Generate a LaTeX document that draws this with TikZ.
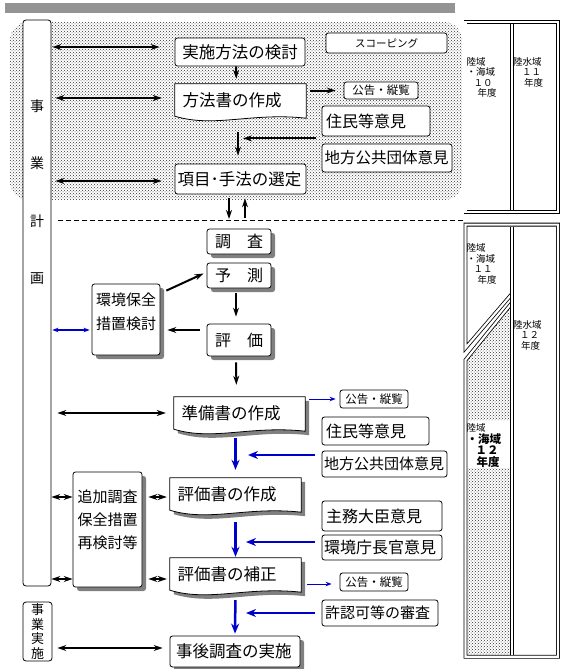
\documentclass[tikz,border=0pt]{standalone}
\usepackage{fontspec}
\setmainfont{Noto Sans CJK JP}
\usetikzlibrary{arrows.meta,shadows,backgrounds,patterns}
\definecolor{flowblue}{RGB}{0,0,204}
\definecolor{shadegray}{RGB}{128,128,128}
\newcommand\fs[1]{\fontsize{#1}{#1}\selectfont}
% outline of a document box, shifted by (#2,#3)
\newcommand\docoutline[3]{([shift={(#2,#3)}]#1.north west) -- ([shift={(#2,#3)}]#1.north east)
  -- ([shift={(#2,#3+2)}]#1.south east)
  .. controls ([shift={(#2-55,#3-4)}]#1.south east) and ([shift={(#2+40,#3+12)}]#1.south west)
  .. ([shift={(#2,#3)}]#1.south west) -- cycle}

\begin{document}
\begin{tikzpicture}[x=1pt,y=-1pt,
  box/.style={draw,fill=white,line width=0.8pt,rounded corners=2.5,inner sep=0pt,font=\fs{16.5}},
  sbox/.style={box,drop shadow={shadow xshift=4pt,shadow yshift=-4pt,fill=shadegray,opacity=1}},
  note/.style={box,font=\fs{11.5}},
  side/.style={box,font=\fs{16},align=left},
  doc/.style={inner sep=0pt,minimum width=131,minimum height=32,text width=116,align=left,font=\fs{16.5}},
  tiny/.style={inner sep=0pt,anchor=north west,align=left,font=\fontsize{9.5}{10.5}\selectfont},
  dotted area/.style={pattern=crosshatch dots,pattern color=black!80},
  arr/.style={line width=2pt,>={Stealth[length=9pt,width=6pt]}},
  barr/.style={flowblue,line width=2.5pt,>={Stealth[length=10pt,width=8pt]}},
  bthin/.style={flowblue,line width=1pt,>={Stealth[length=6pt,width=4.5pt]}},
  dbl/.style={double,double distance=2.2pt,line width=0.8pt}
  ]
\useasboundingbox (0,0) rectangle (566,669);

% left column
\node[box,rounded corners=3,minimum width=28,minimum height=566] (jigyo) at (37,303) {};
\node[inner sep=0pt,align=center,font=\fontsize{14}{57.5}\selectfont] (jigyoT) at (37,192) {事\\業\\計\\画};
\node[box,rounded corners=3,minimum width=29,minimum height=59,align=center,font=\fontsize{13}{14.5}\selectfont] (jisshi) at (37.5,631.5) {事\\業\\実\\施};

% scoping
\node[box,minimum width=130,minimum height=28] (kento) at (240,52) {実施方法の検討};
\node[box,font=\fs{10.5},minimum width=121,minimum height=20] (scoping) at (386.5,43) {スコーピング};
\node[doc] (hoho) at (240.5,100) {方法書の作成};
\node[note,minimum width=74,minimum height=17] (koku1) at (381,90.5) {公告・縦覧};
\node[side,minimum width=108,minimum height=30,text width=100] (jumin1) at (376,121) {住民等意見};
\node[side,font=\fs{15.5},minimum width=130,minimum height=28,text width=125] (chiho1) at (387,158) {地方公共団体意見};
\node[box,minimum width=131,minimum height=30,text width=126,align=left] (sentei) at (240.5,179) {項目･手法の選定};

% survey and evaluation
\node[sbox,font=\fs{16},minimum width=64,minimum height=25] (chosa) at (239,241.5) {調　査};
\node[sbox,font=\fs{16},minimum width=64,minimum height=25] (yosoku) at (239,275.5) {予　測};
\node[sbox,font=\fs{16},minimum width=64,minimum height=32] (hyoka) at (239,340) {評　価};
\node[sbox,minimum width=68,minimum height=71] (hozen) at (126,319.5) {};
\node[inner sep=0pt,align=left,font=\fontsize{15}{24}\selectfont] (hozenT) at (126,312) {環境保全\\措置検討};
\node[doc] (junbi) at (239.5,413) {準備書の作成};
\node[note,minimum width=68,minimum height=18] (koku2) at (374,399) {公告・縦覧};
\node[side,minimum width=107,minimum height=28,text width=99] (jumin2) at (375.5,431) {住民等意見};
\node[side,font=\fs{15},minimum width=125,minimum height=26,text width=121] (chiho2) at (384.5,464) {地方公共団体意見};

% assessment
\node[sbox,minimum width=69,minimum height=115] (tsuika) at (107.5,529.5) {};
\node[inner sep=0pt,align=left,font=\fontsize{15}{23}\selectfont] (tsuikaT) at (107.5,520) {追加調査\\保全措置\\再検討等};
\node[doc] (hyosak) at (235.5,494) {評価書の作成};
\node[side,minimum width=120,minimum height=30,text width=112] (shumu) at (382,516) {主務大臣意見};
\node[side,minimum width=120,minimum height=25,text width=116] (chokan) at (382,547.5) {環境庁長官意見};
\node[doc] (hosei) at (235.5,574) {評価書の補正};
\node[note,minimum width=68,minimum height=18] (koku3) at (374,582) {公告・縦覧};
\node[side,font=\fs{15},minimum width=116,minimum height=26,text width=110] (kyonin) at (380,613) {許認可等の審査};
\node[sbox,minimum width=130,minimum height=31,text width=118,align=left] (jigo) at (235,651.5) {事後調査の実施};

\begin{scope}[on background layer]
  \fill[black!42] (5,3) rectangle (455,13);
  \fill[dotted area,rounded corners=18] (10,22) rectangle (462,200);
  \foreach \d in {junbi,hyosak,hosei}
    \fill[shadegray] \docoutline{\d}{4}{4};
  \foreach \d in {hoho,junbi,hyosak,hosei}
    \draw[fill=white,line width=0.8pt] \docoutline{\d}{0}{0};
\end{scope}

% schedule columns
\fill[dotted area] (467,358) -- (510,307) -- (510,420) -- (467,420) -- cycle;
\fill[dotted area] (467,468) rectangle (510,655);
\draw[dbl] (465.5,21.7) rectangle (557.9,211.9);
\draw[dbl] (511.8,23.8) -- (511.8,209.8);
\draw[dbl] (511.8,294) -- (465.5,348) -- (465.5,224.6) -- (557.9,224.6) -- (557.9,656.7)
  -- (465.5,656.7) -- (465.5,360) -- (511.8,303);
\draw[dbl] (511.8,226.7) -- (511.8,654.6);
\node[tiny] (rk10) at (466.5,57) {陸域\\・海域\\\hspace*{7pt}１０\\\hspace*{11pt}年度};
\node[tiny] (rs11) at (513,57) {陸水域\\\hspace*{9pt}１１\\\hspace*{11pt}年度};
\node[tiny] (rk11) at (466.5,243.5) {陸域\\・海域\\\hspace*{7pt}１１\\\hspace*{11pt}年度};
\node[tiny] (rs12) at (513,320) {陸水域\\\hspace*{7pt}１２\\\hspace*{8pt}年度};
\node[tiny,font=\fontsize{9.5}{11.5}\selectfont] (rk12) at (466.5,423.5)
  {陸域\\{\bfseries\fs{11.5}・海域}\\\hspace*{9pt}{\bfseries\fs{11.5}１２}\\\hspace*{10pt}{\bfseries\fs{11.5}年度}};

\coordinate (dashL) at (58,220);
\coordinate (dashR) at (465,220);
\draw[line width=0.8pt,dash pattern=on 5pt off 3pt] (dashL) -- (dashR);

% connectors, scoping
\draw[arr,<->,shorten <=1pt,shorten >=15pt,transform canvas={yshift=5pt}] (jigyo.east |- kento.west) -- (kento.west);
\draw[arr,<->,shorten <=4pt,shorten >=13pt,transform canvas={yshift=2pt}] (jigyo.east |- hoho.west) -- (hoho.west);
\draw[arr,<->,shorten <=4pt,shorten >=13pt,transform canvas={yshift=-2pt}] (jigyo.east |- sentei.west) -- (sentei.west);
\draw[arr,->,shorten >=5pt,transform canvas={xshift=-4pt}] (kento.south) -- (hoho.north);
\draw[arr,->,shorten <=4pt,shorten >=8pt] (hoho.east |- koku1.west) -- (koku1.west);
\coordinate (op1) at ([yshift=-2pt]jumin1.south west);
\draw[arr,->,shorten <=6pt,shorten >=2.5pt] (op1) -- (op1 -| hoho.south);
\draw[arr,->,shorten <=16pt,shorten >=8pt,transform canvas={xshift=-2.5pt}] (hoho.south) -- (sentei.north);
\draw[arr,->,shorten <=4pt,shorten >=1pt,transform canvas={xshift=-11.5pt}] (sentei.south) -- (sentei.south |- dashL);
\draw[arr,->,shorten <=2pt,shorten >=4pt,transform canvas={xshift=4.5pt}] (sentei.south |- dashL) -- (sentei.south);

% connectors, survey
\draw[arr,->] ([shift={(6,7)}]hozen.north east) -- ([shift={(-3,-2)}]yosoku.west);
\draw[arr,->] ([shift={(-7,-10)}]hyoka.west) -- ([shift={(7,10.5)}]hozen.east);
\draw[bthin,<->,line width=1.3pt,shorten <=1pt,shorten >=2pt,transform canvas={yshift=-10.5pt}] (jigyo.east |- hozen.west) -- (hozen.west);
\draw[arr,->,shorten <=5pt,shorten >=7pt,transform canvas={xshift=-3pt}] (yosoku.south) -- (hyoka.north);
\draw[arr,->,shorten <=6pt,shorten >=12pt,transform canvas={xshift=-3pt}] (hyoka.south) -- (junbi.north);
\draw[arr,<->,shorten <=6pt,shorten >=8pt] (jigyo.east |- junbi.west) -- (junbi.west);
\draw[bthin,->,shorten <=4pt,shorten >=4pt] (junbi.east |- koku2.west) -- (koku2.west);
\draw[barr,->,shorten <=9pt,shorten >=8pt] (hyosak.north |- junbi.south) -- (hyosak.north);
\coordinate (op2) at ([shift={(-7,-9)}]chiho2.west);
\draw[barr,->,shorten >=12.5pt] (op2) -- (op2 -| hyosak.north);

% connectors, assessment
\draw[arr,<->,transform canvas={yshift=-3pt}] (jigyo.east |- hyosak.west) -- (tsuika.west |- hyosak.west);
\draw[arr,<->,shorten <=6pt,shorten >=3pt,transform canvas={yshift=-3pt}] (tsuika.east |- hyosak.west) -- (hyosak.west);
\draw[arr,<->,transform canvas={yshift=-5pt}] (jigyo.east |- hosei.west) -- (tsuika.west |- hosei.west);
\draw[arr,<->,shorten <=6pt,shorten >=3pt,transform canvas={yshift=-5pt}] (tsuika.east |- hosei.west) -- (hosei.west);
\draw[barr,->,shorten <=12pt,shorten >=1pt] (hyosak.south) -- (hosei.north);
\coordinate (op3) at ([shift={(-7,-5.5)}]chokan.west);
\draw[barr,->,shorten >=10.5pt] (op3) -- (op3 -| hosei.north);
\draw[bthin,->,shorten <=6pt,shorten >=8pt,transform canvas={yshift=-2pt}] (hosei.east |- koku3.west) -- (koku3.west);
\draw[barr,->,shorten <=10pt,shorten >=2pt] (hosei.south) -- (jigo.north);
\draw[barr,->,shorten >=11pt] ([xshift=-7pt]kyonin.west) -- (kyonin.west -| jigo.north);
\draw[arr,<->,shorten <=5pt,shorten >=7pt,transform canvas={yshift=3.5pt}] (jisshi.east |- jigo.west) -- (jigo.west);
\end{tikzpicture}
\end{document}
